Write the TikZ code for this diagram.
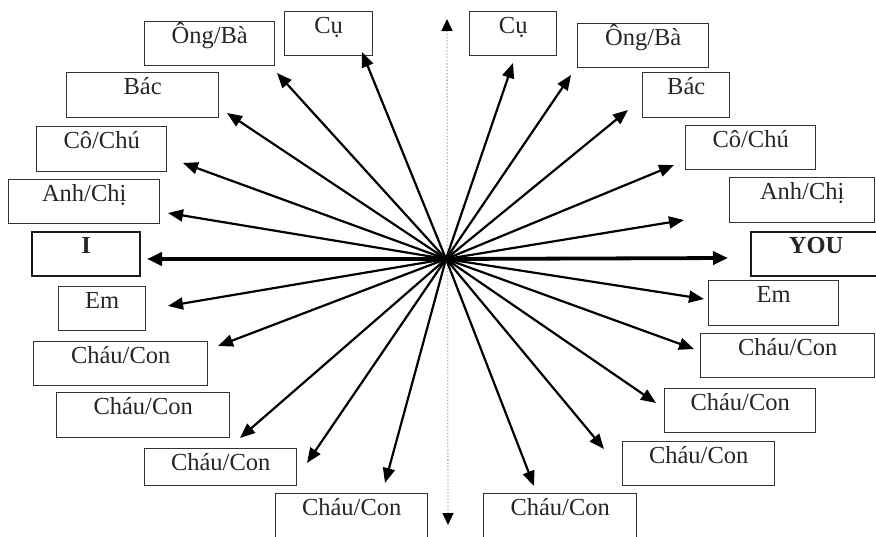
\documentclass[tikz,border=0pt]{standalone}
\usepackage{fontspec}
\setmainfont{Liberation Serif}
\usetikzlibrary{arrows.meta}
\newcommand\tbox[7][bx]{%
  \node[#1, anchor=north west, minimum width=#5pt, minimum height=#6pt] (#2) at (#3,#4) {};
  \node[lbl, yshift=-22pt] (#2-t) at (#2.north) {#7};}
\begin{document}
\begin{tikzpicture}[x=1pt,y=-1pt,
  bx/.style={draw=black!80, line width=1.4pt, inner sep=0pt},
  bxthick/.style={draw=black!90, line width=2.4pt, inner sep=0pt},
  lbl/.style={anchor=base, inner sep=0pt, font=\fontsize{24.5}{28}\selectfont, text=black!85},
  arr/.style={line width=2.2pt, -{Triangle[length=15pt,width=12pt]}},
  mainarr/.style={line width=3.8pt, -{Triangle[length=15pt,width=13pt]}},
  axis/.style={draw=black!30, line width=1.3pt, dotted, {Triangle[length=12pt,width=11pt,color=black]}-{Triangle[length=12pt,width=11pt,color=black]}}
]
\useasboundingbox (0,0) rectangle (876,536);
\clip (0,0) rectangle (876,536);

% vertical dotted axis
\coordinate (top) at (447,19);
\coordinate (bot) at (448,525);
\draw[axis] (bot) -- (top);

% boxes
\tbox{cuL}{284}{11}{88}{44}{Cụ}
\tbox{ongL}{144}{21}{130}{44}{Ông/Bà}
\tbox{bacL}{66}{72}{152}{45}{Bác}
\tbox{cochuL}{36}{126}{130}{45}{Cô/Chú}
\tbox{anhL}{8}{179}{151}{44}{Anh/Chị}
\tbox[bxthick]{iL}{31}{231}{108}{44}{\textbf{I}}
\tbox{emL}{58}{286}{87}{44}{Em}
\tbox{chA}{33}{341}{174}{44}{Cháu/Con}
\tbox{chB}{56}{392}{173}{45}{Cháu/Con}
\tbox{chC}{144}{448}{152}{37}{Cháu/Con}
\tbox{chD}{275}{493}{152}{45}{Cháu/Con}

\tbox{cuR}{469}{11}{87}{44}{Cụ}
\tbox{ongR}{577}{23}{131}{44}{Ông/Bà}
\tbox{bacR}{642}{72}{87}{45}{Bác}
\tbox{cochuR}{685}{125}{130}{44}{Cô/Chú}
\tbox{anhR}{729}{177}{145}{45}{Anh/Chị}
\tbox[bxthick]{you}{750}{231}{130}{44}{\textbf{YOU}}
\tbox{emR}{708}{280}{130}{45}{Em}
\tbox{chE}{700}{333}{174}{44}{Cháu/Con}
\tbox{chF}{664}{388}{151}{44}{Cháu/Con}
\tbox{chG}{622}{441}{152}{44}{Cháu/Con}
\tbox{chH}{483}{493}{153}{45}{Cháu/Con}

% centre and arrow tips
\coordinate (O) at (446,259);
\coordinate (tcuL) at (362,52);
\coordinate (tongL) at (277,73);
\coordinate (tbacL) at (227,113);
\coordinate (tcochuL) at (183,163);
\coordinate (tanhL) at (168,213);
\coordinate (tiL) at (147,259);
\coordinate (temL) at (168,306);
\coordinate (tchA) at (218,346);
\coordinate (tchB) at (240,438);
\coordinate (tchC) at (307,463);
\coordinate (tchD) at (385,483);
\coordinate (tcuR) at (513,63);
\coordinate (tongR) at (571,75);
\coordinate (tbacR) at (628,110);
\coordinate (tcochuR) at (674,165);
\coordinate (tanhR) at (684,220);
\coordinate (tyou) at (728,258);
\coordinate (temR) at (704,299);
\coordinate (tchE) at (694,349);
\coordinate (tchF) at (656,403);
\coordinate (tchG) at (604,449);
\coordinate (tchH) at (534,486);

\foreach \t in {tcuL,tongL,tbacL,tcochuL,tanhL,temL,tchA,tchB,tchC,tchD,
                tcuR,tongR,tbacR,tcochuR,tanhR,temR,tchE,tchF,tchG,tchH}
  \draw[arr] (O) -- (\t);
\draw[mainarr] (O) -- (tiL);
\draw[mainarr] (O) -- (tyou);
\end{tikzpicture}
\end{document}
